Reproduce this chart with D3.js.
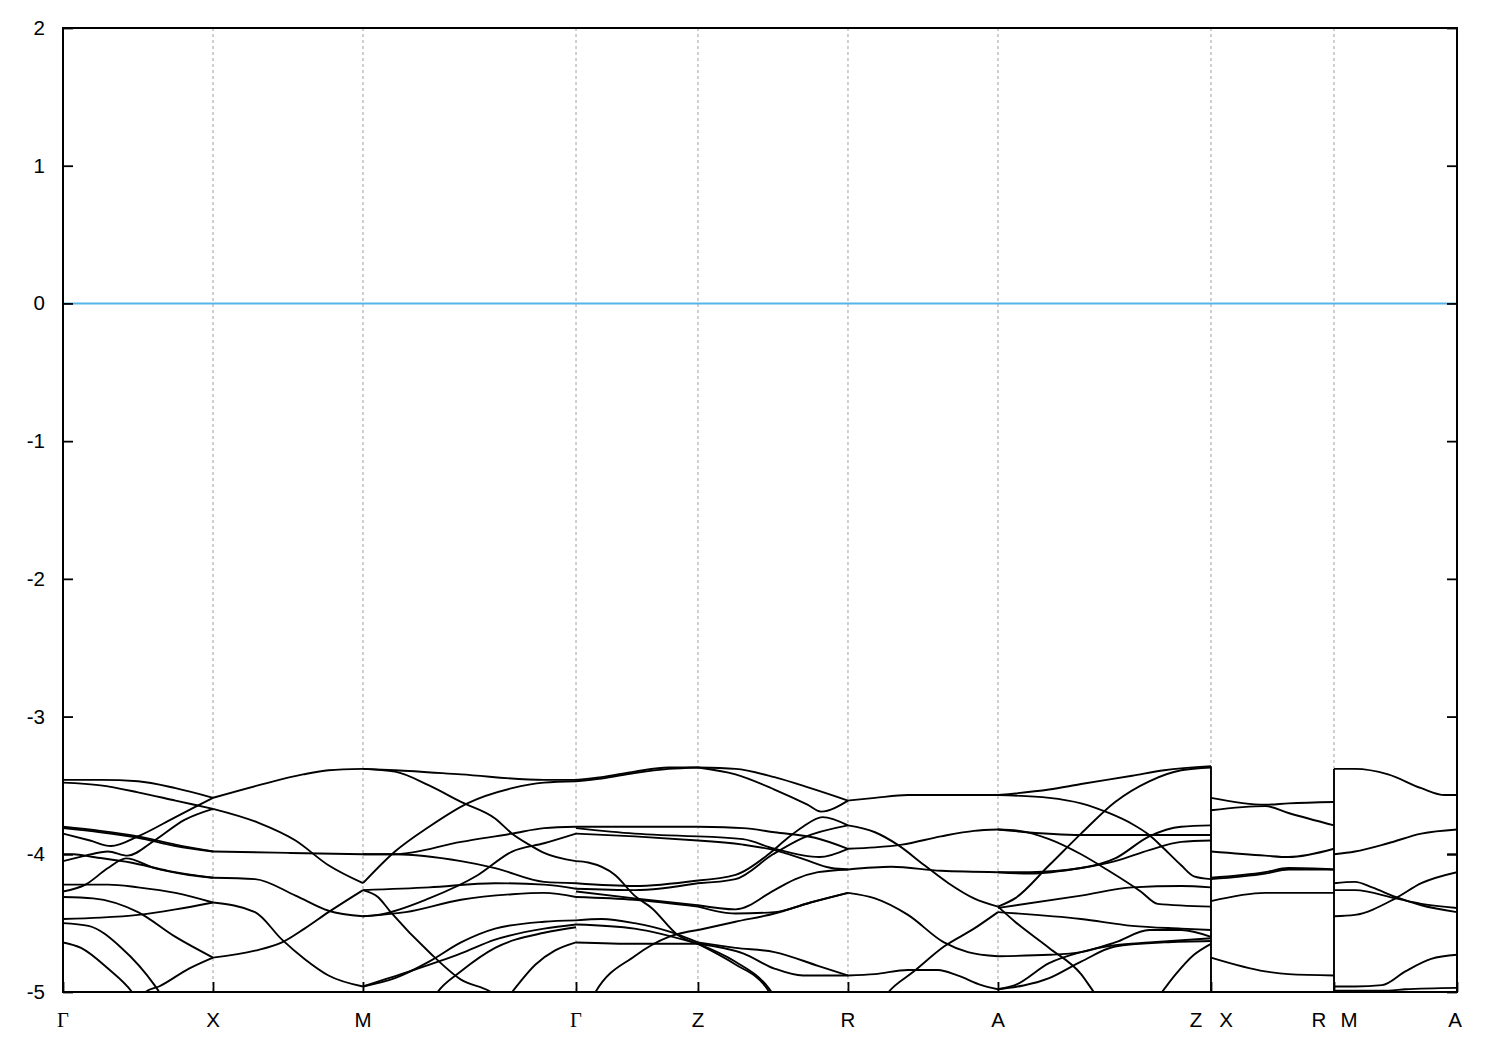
<!DOCTYPE html>
<html><head><meta charset="utf-8">
<script src="https://cdn.jsdelivr.net/npm/d3@7"></script>
<style>body{margin:0;background:#fff}</style>
</head><body><svg id="chart" width="1500" height="1050"></svg>
<script>
// ---- data ----
const kPoints = [0, 1, 2, 3.42, 4.233, 5.233, 6.233, 7.653, 8.473, 9.293];
const kLabels = ["Γ","X","M","Γ","Z","R","A","Z|X","R|M","A"];
const yTicks = [-5,-4,-3,-2,-1,0,1,2];
const fermiLevel = 0;

// bands per path segment: [t (fraction of segment), energy eV]
const segGX = [
 [[0,-3.46],[.25,-3.46],[.5,-3.47],[.75,-3.52],[1,-3.59]],
 [[0,-3.48],[.25,-3.50],[.5,-3.55],[.75,-3.61],[1,-3.67]],
 [[0,-3.80],[.25,-3.83],[.5,-3.87],[.75,-3.93],[1,-3.98]],
 [[0,-3.81],[.25,-3.84],[.5,-3.88],[.75,-3.94],[1,-3.98]],
 [[0,-3.85],[.18,-3.90],[.32,-3.94],[.5,-3.87],[.75,-3.73],[1,-3.59]],
 [[0,-4.05],[.15,-4.01],[.3,-3.98],[.43,-4.01],[.61,-3.90],[.81,-3.75],[1,-3.67]],
 [[0,-4.27],[.15,-4.22],[.3,-4.10],[.42,-4.03],[.61,-4.10],[.84,-4.15],[1,-4.17]],
 [[0,-4.00],[.07,-4.00],[.2,-4.02],[.45,-4.06],[.7,-4.12],[1,-4.17]],
 [[0,-4.22],[.3,-4.22],[.5,-4.24],[.75,-4.28],[1,-4.35]],
 [[0,-4.47],[.25,-4.46],[.5,-4.44],[.75,-4.40],[1,-4.35]],
 [[0,-4.31],[.2,-4.32],[.5,-4.42],[.75,-4.60],[1,-4.75]],
 [[0,-4.50],[.17,-4.52],[.39,-4.68],[.61,-4.95],[.7,-5.1]],
 [[0,-4.64],[.12,-4.68],[.3,-4.83],[.46,-5.0],[.55,-5.15]],
 [[.48,-5.15],[.55,-5.0],[.64,-4.96],[.84,-4.83],[1,-4.75]]
];
const segXM = [
 [[0,-3.59],[.3,-3.50],[.6,-3.42],[.77,-3.39],[1,-3.38]],
 [[0,-3.67],[.3,-3.77],[.55,-3.90],[.77,-4.08],[1,-4.21]],
 [[0,-3.98],[.5,-3.99],[1,-4.00]],
 [[0,-4.17],[.28,-4.18],[.55,-4.30],[.77,-4.41],[1,-4.45]],
 [[0,-4.35],[.28,-4.42],[.46,-4.62],[.61,-4.76],[.77,-4.88],[1,-4.96]],
 [[0,-4.75],[.28,-4.70],[.46,-4.64],[.61,-4.54],[.77,-4.42],[1,-4.26]]
];
const segMG = [
 [[0,-3.38],[.15,-3.39],[.46,-3.42],[.85,-3.46],[1,-3.46]],
 [[0,-3.38],[.15,-3.40],[.31,-3.50],[.46,-3.62],[.62,-3.74],[.7,-3.85],[.78,-3.93],[.85,-3.99],[1,-4.05]],
 [[0,-4.21],[.15,-3.98],[.31,-3.80],[.49,-3.63],[.7,-3.52],[.85,-3.48],[1,-3.47]],
 [[0,-4.00],[.15,-4.00],[.46,-3.91],[.7,-3.85],[.85,-3.81],[1,-3.80]],
 [[0,-4.00],[.15,-4.00],[.46,-4.05],[.62,-4.10],[.85,-4.20],[1,-4.21]],
 [[0,-4.26],[.31,-4.24],[.62,-4.21],[.85,-4.22],[1,-4.25]],
 [[0,-4.26],[.07,-4.31],[.13,-4.42],[.31,-4.71],[.46,-4.91],[.6,-5.0],[.68,-5.1]],
 [[0,-4.45],[.07,-4.44],[.31,-4.32],[.54,-4.15],[.7,-3.98],[.85,-3.92],[1,-3.85]],
 [[0,-4.45],[.2,-4.42],[.46,-4.33],[.7,-4.29],[.85,-4.28],[1,-4.31]],
 [[0,-4.96],[.15,-4.90],[.31,-4.78],[.46,-4.64],[.62,-4.54],[.85,-4.49],[1,-4.48]],
 [[0,-4.96],[.2,-4.86],[.46,-4.72],[.62,-4.62],[.85,-4.54],[1,-4.51]],
 [[.3,-5.12],[.35,-5.0],[.46,-4.85],[.62,-4.68],[.85,-4.57],[1,-4.53]],
 [[.64,-5.12],[.7,-5.0],[.81,-4.80],[.9,-4.70],[1,-4.64]]
];
const segGZ = [
 [[0,-3.46],[.21,-3.44],[.48,-3.40],[.76,-3.37],[1,-3.37]],
 [[0,-3.47],[.21,-3.45],[.48,-3.41],[.76,-3.38],[1,-3.37]],
 [[0,-3.80],[.5,-3.80],[1,-3.80]],
 [[0,-3.81],[.48,-3.85],[1,-3.87]],
 [[0,-3.85],[.48,-3.87],[1,-3.90]],
 [[0,-4.05],[.1,-4.06],[.32,-4.15],[.48,-4.30],[.62,-4.39],[.84,-4.59],[1,-4.65]],
 [[0,-4.21],[.48,-4.23],[1,-4.19]],
 [[0,-4.25],[.48,-4.26],[1,-4.21]],
 [[0,-4.27],[.48,-4.32],[1,-4.37]],
 [[0,-4.31],[.48,-4.33],[1,-4.38]],
 [[0,-4.48],[.21,-4.47],[.48,-4.50],[.76,-4.56],[1,-4.64]],
 [[0,-4.51],[.48,-4.54],[1,-4.65]],
 [[0,-4.64],[.5,-4.65],[1,-4.65]],
 [[.1,-5.1],[.16,-5.0],[.48,-4.74],[.76,-4.60],[1,-4.55]]
];
const segZR = [
 [[0,-3.37],[.25,-3.38],[.51,-3.44],[.75,-3.52],[1,-3.61]],
 [[0,-3.37],[.25,-3.42],[.51,-3.53],[.73,-3.64],[.82,-3.69],[1,-3.61]],
 [[0,-3.80],[.3,-3.81],[.51,-3.84],[.78,-3.88],[1,-3.96]],
 [[0,-3.87],[.3,-3.89],[.51,-3.96],[.81,-4.02],[1,-3.96]],
 [[0,-3.90],[.3,-3.93],[.51,-3.97],[.69,-4.03],[.89,-4.10],[1,-4.11]],
 [[0,-4.19],[.25,-4.15],[.47,-4.00],[.6,-3.88],[.7,-3.80],[.83,-3.73],[1,-3.79]],
 [[0,-4.21],[.25,-4.18],[.5,-4.00],[.7,-3.88],[1,-3.79]],
 [[0,-4.37],[.25,-4.40],[.51,-4.26],[.65,-4.18],[.8,-4.13],[1,-4.11]],
 [[0,-4.38],[.25,-4.43],[.51,-4.42],[.75,-4.35],[1,-4.28]],
 [[0,-4.55],[.25,-4.49],[.51,-4.43],[.75,-4.35],[1,-4.28]],
 [[0,-4.64],[.25,-4.68],[.51,-4.71],[.8,-4.81],[1,-4.88]],
 [[0,-4.65],[.25,-4.78],[.47,-4.97],[.55,-5.1]],
 [[0,-4.65],[.25,-4.80],[.45,-4.96],[.53,-5.1]],
 [[0,-4.65],[.3,-4.72],[.51,-4.83],[.7,-4.88],[1,-4.88]]
];
const segRA = [
 [[0,-3.61],[.18,-3.59],[.4,-3.57],[.7,-3.57],[1,-3.57]],
 [[0,-3.79],[.18,-3.84],[.33,-3.93],[.51,-4.08],[.67,-4.21],[.84,-4.32],[1,-4.38]],
 [[0,-3.96],[.18,-3.95],[.36,-3.93],[.62,-3.87],[.84,-3.83],[1,-3.82]],
 [[0,-4.11],[.29,-4.09],[.62,-4.12],[1,-4.13]],
 [[0,-4.28],[.18,-4.32],[.4,-4.44],[.64,-4.64],[.8,-4.71],[1,-4.74]],
 [[.2,-5.1],[.27,-5.0],[.44,-4.85],[.64,-4.67],[.84,-4.54],[1,-4.42]],
 [[0,-4.88],[.18,-4.87],[.4,-4.84],[.6,-4.84],[.73,-4.88],[.89,-4.95],[1,-4.98]]
];
const segAZ = [
 [[0,-3.57],[.24,-3.53],[.39,-3.49],[.63,-3.43],[.78,-3.39],[1,-3.36]],
 [[0,-3.57],[.24,-3.59],[.39,-3.63],[.52,-3.70],[.63,-3.78],[.71,-3.86],[.78,-3.96],[.86,-4.08],[.92,-4.16],[1,-4.18]],
 [[0,-3.82],[.39,-3.86],[1,-3.86]],
 [[0,-3.82],[.1,-3.83],[.24,-3.89],[.39,-4.00],[.52,-4.12],[.67,-4.27],[.75,-4.36],[1,-4.38]],
 [[0,-4.38],[.08,-4.32],[.24,-4.08],[.39,-3.85],[.55,-3.62],[.71,-3.47],[.86,-3.39],[1,-3.37]],
 [[0,-4.13],[.15,-4.13],[.39,-4.10],[.55,-4.03],[.71,-3.87],[.86,-3.80],[1,-3.79]],
 [[0,-4.13],[.15,-4.14],[.39,-4.10],[.55,-4.05],[.71,-3.97],[.86,-3.91],[1,-3.90]],
 [[0,-4.39],[.39,-4.30],[.63,-4.24],[.86,-4.23],[1,-4.24]],
 [[0,-4.42],[.39,-4.47],[.63,-4.52],[.86,-4.54],[1,-4.55]],
 [[0,-4.74],[.24,-4.73],[.39,-4.71],[.55,-4.64],[.71,-4.55],[.86,-4.55],[1,-4.60]],
 [[0,-4.98],[.08,-4.95],[.24,-4.79],[.39,-4.71],[.55,-4.66],[.71,-4.64],[1,-4.61]],
 [[0,-4.98],[.24,-4.90],[.39,-4.78],[.55,-4.67],[.78,-4.64],[1,-4.63]],
 [[0,-4.38],[.08,-4.49],[.24,-4.68],[.39,-4.87],[.45,-5.0],[.5,-5.1]],
 [[.72,-5.1],[.77,-5.0],[.83,-4.88],[.92,-4.73],[1,-4.65]]
];
const segXR = [
 [[0,-3.59],[.44,-3.64],[.63,-3.63],[1,-3.62]],
 [[0,-3.68],[.44,-3.65],[.63,-3.70],[1,-3.79]],
 [[0,-3.98],[.44,-4.01],[.63,-4.02],[1,-3.96]],
 [[0,-4.17],[.44,-4.13],[.63,-4.10],[1,-4.11]],
 [[0,-4.18],[.44,-4.14],[.63,-4.11],[1,-4.11]],
 [[0,-4.34],[.44,-4.28],[.63,-4.28],[1,-4.28]],
 [[0,-4.75],[.44,-4.85],[.63,-4.87],[1,-4.88]]
];
const segMA = [
 [[0,-3.38],[.17,-3.38],[.44,-3.42],[.71,-3.52],[.9,-3.57],[1,-3.57]],
 [[0,-4.00],[.17,-3.98],[.44,-3.92],[.71,-3.85],[1,-3.82]],
 [[.92,-4.00],[1,-4.00]],
 [[0,-4.21],[.17,-4.20],[.31,-4.24],[.5,-4.31],[.71,-4.37],[1,-4.42]],
 [[0,-4.26],[.17,-4.26],[.5,-4.32],[.71,-4.36],[1,-4.39]],
 [[0,-4.45],[.17,-4.44],[.5,-4.32],[.71,-4.21],[1,-4.13]],
 [[0,-4.96],[.17,-4.96],[.39,-4.95],[.58,-4.85],[.79,-4.76],[1,-4.73]],
 [[0,-4.99],[.44,-4.99],[.58,-4.98],[1,-4.97]]
];
// path segments: [start k index, end k index, bands]
const segments = [
 [0,1,segGX],[1,2,segXM],[2,3,segMG],[3,4,segGZ],[4,5,segZR],
 [5,6,segRA],[6,7,segAZ],[7,8,segXR],[8,9,segMA]
];
const jumpIndices = [7, 8]; // path discontinuities Z|X and R|M

// ---- drawing ----
const svg = d3.select("#chart");
svg.append("rect").attr("width",1500).attr("height",1050).attr("fill","#fff");
const L = 63, R = 1457, T = 28, B = 992;
const x = d3.scaleLinear().domain([kPoints[0], kPoints[kPoints.length-1]]).range([L, R]);
const y = d3.scaleLinear().domain([-5, 2]).range([B, T]);
const font = "'Liberation Sans', Arial, sans-serif";
const bandWidth = 1.9;

svg.append("defs").append("clipPath").attr("id","clip")
  .append("rect").attr("x",L).attr("y",T).attr("width",R-L).attr("height",B-T);

// grid lines at high-symmetry points
svg.append("g").selectAll("line").data(kPoints.slice(1,-1)).join("line")
  .attr("x1",d=>x(d)).attr("x2",d=>x(d)).attr("y1",T).attr("y2",B)
  .attr("stroke","#a0a0a0").attr("stroke-width",1).attr("stroke-dasharray","3,3");

// Fermi level
svg.append("line").attr("x1",L).attr("x2",R).attr("y1",y(fermiLevel)).attr("y2",y(fermiLevel))
  .attr("stroke","#56b4e9").attr("stroke-width",2);

const bandG = svg.append("g").attr("clip-path","url(#clip)");
segments.forEach(([i0,i1,bands]) => {
  const k0 = kPoints[i0], k1 = kPoints[i1];
  const line = d3.line()
    .x(d => x(k0 + d[0]*(k1-k0)))
    .y(d => y(d[1]))
    .curve(d3.curveMonotoneX);
  bandG.selectAll(null).data(bands).join("path")
    .attr("d", line).attr("fill","none").attr("stroke","#000").attr("stroke-width",bandWidth);
});
// vertical connections at path discontinuities
jumpIndices.forEach(ji => {
  const before = segments.find(s => s[1] === ji)[2].map(b => b[b.length-1][1]);
  const after = segments.find(s => s[0] === ji)[2].map(b => b[0][1]);
  const top = d3.max(before.concat(after));
  bandG.append("line").attr("x1",x(kPoints[ji])).attr("x2",x(kPoints[ji]))
    .attr("y1",y(top)).attr("y2",y(y.domain()[0]))
    .attr("stroke","#000").attr("stroke-width",bandWidth);
});

// axes
const axL = svg.append("g").attr("transform",`translate(${L},0)`)
  .call(d3.axisLeft(y).tickValues(yTicks).tickSize(-10).tickPadding(18).tickFormat(d=>String(d)));
const axR = svg.append("g").attr("transform",`translate(${R},0)`)
  .call(d3.axisRight(y).tickValues(yTicks).tickSize(-10).tickFormat(""));
const axB = svg.append("g").attr("transform",`translate(0,${B})`)
  .call(d3.axisBottom(x).tickValues(kPoints).tickSize(-10).tickFormat(""));
[axL,axR,axB].forEach(g => {
  g.select(".domain").remove();
  g.selectAll(".tick line").attr("stroke","#000").attr("stroke-width",1.8);
  g.selectAll("text").attr("font-family",font).attr("font-size",20.5).attr("fill","#000");
});

// frame
svg.append("rect").attr("x",L).attr("y",T).attr("width",R-L).attr("height",B-T)
  .attr("fill","none").attr("stroke","#000").attr("stroke-width",2);

// k-point labels
const labelData = [];
kLabels.forEach((lab,i) => {
  const parts = lab.split("|");
  if (parts.length === 1) labelData.push({t:lab, k:kPoints[i], dx:0});
  else { labelData.push({t:parts[0], k:kPoints[i], dx:-15}); labelData.push({t:parts[1], k:kPoints[i], dx:15}); }
});
svg.append("g").selectAll("text").data(labelData).join("text")
  .attr("x", d => x(d.k) + d.dx - (d.k === kPoints[kPoints.length-1] ? 2 : 0))
  .attr("y", 1027)
  .attr("text-anchor","middle")
  .attr("font-family", d => d.t === "Γ" ? "'Liberation Serif', 'Times New Roman', serif" : font)
  .attr("font-size", 20.5)
  .text(d => d.t);
</script></body></html>
